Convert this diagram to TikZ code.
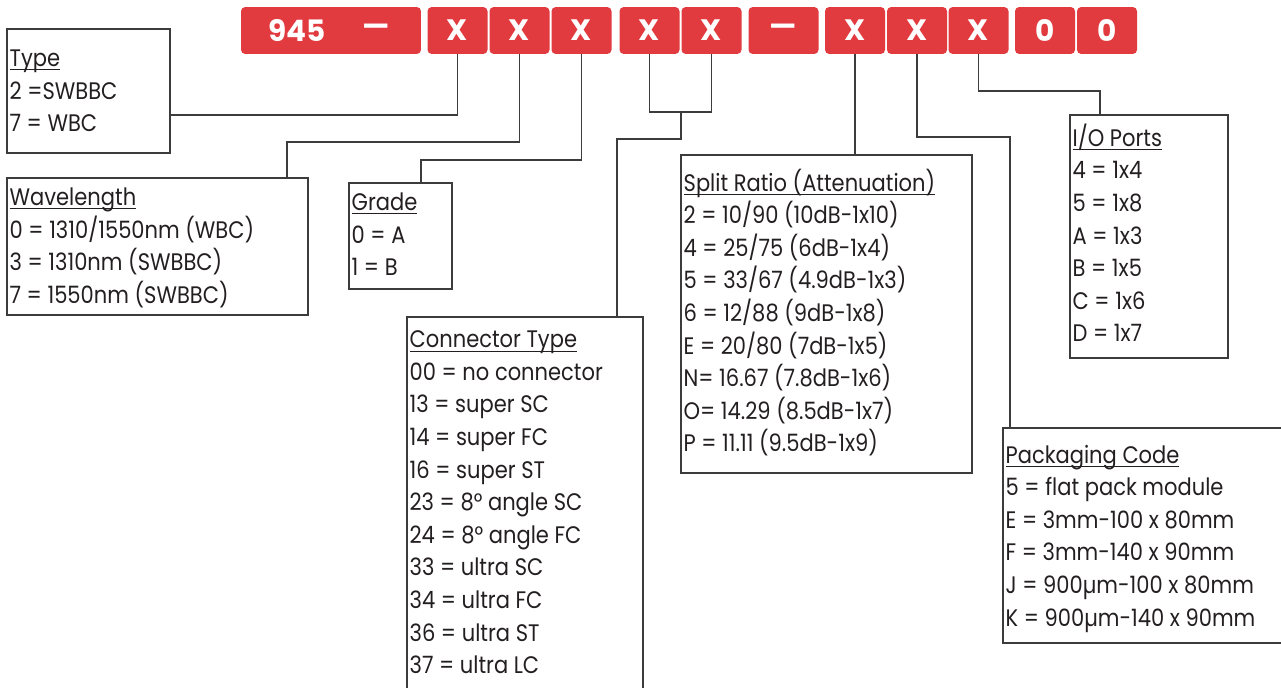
\documentclass[tikz,border=0pt]{standalone}
\usepackage{fontspec}
\setmainfont{Poppins}
\newfontfamily\legendfont{Poppins}[FakeStretch=0.88]
\usetikzlibrary{positioning,fit}
\definecolor{keyred}{RGB}{225,59,64}
\definecolor{wiregray}{RGB}{60,60,60}
\definecolor{ink}{RGB}{35,31,32}
\newcommand{\hdline}[1]{\setbox0=\hbox{#1}\rlap{\rule[-2.2pt]{\wd0}{0.6pt}}\box0}

\begin{document}
\begin{tikzpicture}[x=0.02cm, y=-0.02cm,
  keybox/.style={fill=keyred, rounded corners=2.4pt, minimum width=1.2cm,
    minimum height=0.94cm, inner sep=0pt, text=white,
    font=\fontsize{16.8}{20}\selectfont\bfseries},
  keytext/.style={inner sep=0pt, text=white, font=\fontsize{16.8}{20}\selectfont\bfseries},
  infobox/.style={draw=wiregray, line width=0.8pt, inner sep=0pt},
  infotext/.style={anchor=north west, align=left, inner sep=0pt, text=ink,
    font=\legendfont\fontsize{13.6}{18.55}\selectfont, execute at begin node=\strut},
  wire/.style={draw=wiregray, line width=0.8pt}]
  \useasboundingbox (0,0) rectangle (1281,687);

  % part number keys
  \node[keybox, minimum width=3.6cm] (prefix) at (331,30.5) {};
  \node[keytext] (n945) at (297.5,30.5) {945};
  \node[keytext] (dash1) at (376,30.5) {—};
  \node[keybox] (k1) at (457.5,30.5) {X};
  \node[keybox] (k2) at (519.5,30.5) {X};
  \node[keybox] (k3) at (581.5,30.5) {X};
  \node[keybox] (k4) at (649.5,30.5) {X};
  \node[keybox] (k5) at (711.5,30.5) {X};
  \node[keybox, minimum width=1.4cm] (dash2) at (783.5,30.5) {—};
  \node[keybox] (k6) at (855,30.5) {X};
  \node[keybox] (k7) at (917,30.5) {X};
  \node[keybox] (k8) at (978.5,30.5) {X};
  \node[keybox] (z1) at (1045,30.5) {0};
  \node[keybox] (z2) at (1107,30.5) {0};

  % legend boxes
  \node[infobox, fit={(7,29) (170,153)}] (type) {};
  \node[infotext] (typetxt) at ([shift={(3,21.2)}]type.north west)
    {\hdline{Type}\\2 =SWBBC\\7 = WBC};
  \node[infobox, fit={(7,178) (308,315)}] (wave) {};
  \node[infotext] (wavetxt) at ([shift={(3,10.2)}]wave.north west)
    {\hdline{Wavelength}\\0 = 1310/1550nm (WBC)\\3 = 1310nm (SWBBC)\\7 = 1550nm (SWBBC)};
  \node[infobox, fit={(349,183) (452,289)}] (grade) {};
  \node[infotext] (gradetxt) at ([shift={(3,10.2)}]grade.north west)
    {\hdline{Grade}\\0 = A\\1 = B};
  \node[infobox, fit={(407,317) (643,700)}] (conn) {};
  \node[infotext] (conntxt) at ([shift={(3,14.2)}]conn.north west)
    {\hdline{Connector Type}\\00 = no connector\\13 = super SC\\14 = super FC\\16 = super ST\\
     23 = 8° angle SC\\24 = 8° angle FC\\33 = ultra SC\\34 = ultra FC\\36 = ultra ST\\37 = ultra LC};
  \node[infobox, fit={(681,155) (972,473)}] (split) {};
  \node[infotext] (splittxt) at ([shift={(3,14.2)}]split.north west)
    {\hdline{Split Ratio (Attenuation)}\\2 = 10/90 (10dB-1x10)\\4 = 25/75 (6dB-1x4)\\
     5 = 33/67 (4.9dB-1x3)\\6 = 12/88 (9dB-1x8)\\E = 20/80 (7dB-1x5)\\
     N= 16.67 (7.8dB-1x6)\\O= 14.29 (8.5dB-1x7)\\P = 11.11 (9.5dB-1x9)};
  \node[infobox, fit={(1070,115) (1228,358)}] (io) {};
  \node[infotext] (iotxt) at ([shift={(3,9.2)}]io.north west)
    {\hdline{I/O Ports}\\4 = 1x4\\5 = 1x8\\A = 1x3\\B = 1x5\\C = 1x6\\D = 1x7};
  \node[infobox, fit={(1003,428) (1295,643)}] (pack) {};
  \node[infotext] (packtxt) at ([shift={(3,17.2)}]pack.north west)
    {\hdline{Packaging Code}\\5 = flat pack module\\E = 3mm-100 x 80mm\\F = 3mm-140 x 90mm\\
     J = 900µm-100 x 80mm\\K = 900µm-140 x 90mm};

  % connectors
  \draw[wire] (k1.south) |- (type.east |- 0,115);
  \coordinate (wavebend) at (287,142);
  \draw[wire] (k2.south) |- (wavebend) -- (wavebend |- wave.north);
  \coordinate (gradebend) at (421,160);
  \draw[wire] (k3.south) |- (gradebend) -- (gradebend |- grade.north);
  \coordinate (pairmid) at (681,112);
  \coordinate (connbend) at (617,139);
  \draw[wire] (k4.south) |- (pairmid) -| (k5.south);
  \draw[wire] (pairmid) |- (connbend) -- (connbend |- conn.north);
  \draw[wire] (k6.south) -- (k6.south |- split.north);
  \coordinate (packbend) at (1010,137);
  \draw[wire] (k7.south) |- (packbend) -- (packbend |- pack.north);
  \coordinate (iobend) at (1100,91);
  \draw[wire] (k8.south) |- (iobend) -- (iobend |- io.north);
\end{tikzpicture}
\end{document}
